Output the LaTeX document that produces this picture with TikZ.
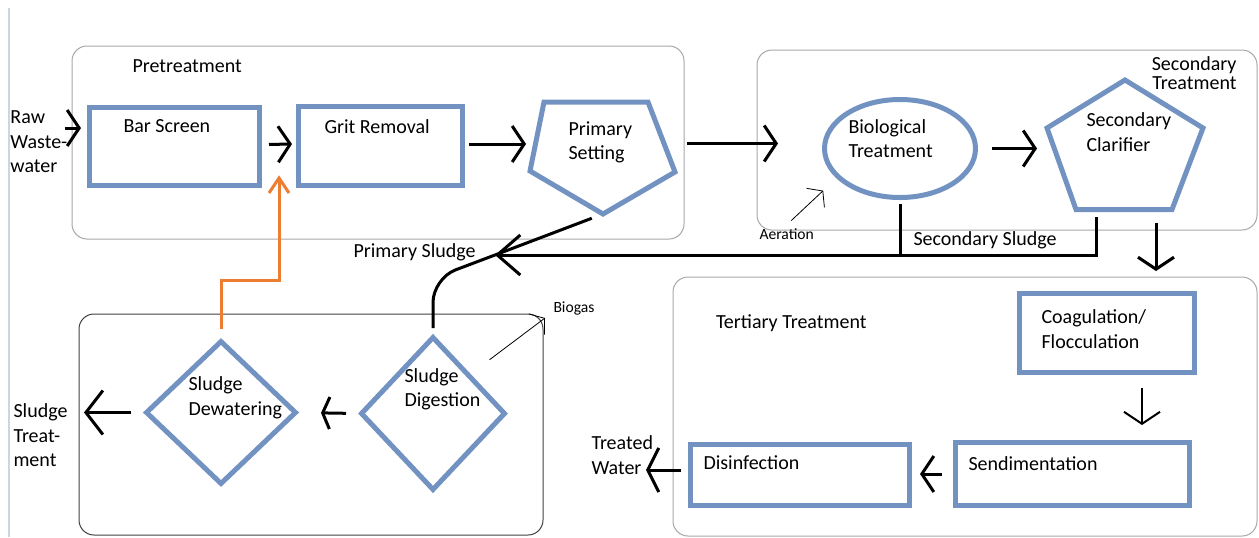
\documentclass[tikz,border=0pt]{standalone}
\usepackage{fontspec}
\setmainfont{Carlito}
\usepackage{tikz}
\usetikzlibrary{arrows.meta, shapes.geometric, calc}

\definecolor{boxblue}{RGB}{114,147,194}
\definecolor{grpgray}{RGB}{168,168,168}
\definecolor{retorange}{RGB}{237,125,49}
\definecolor{edgeline}{RGB}{205,212,228}

\begin{document}
\begin{tikzpicture}[x=.5pt, y=-.5pt, line width=.5pt,
    txt/.style={inner sep=0pt, anchor=west, align=left, font=\fontsize{10}{12.25}\selectfont},
    txtone/.style={txt, text height=1.5ex, text depth=.25ex},
    small/.style={txtone, font=\fontsize{7.8}{9}\selectfont},
    unit/.style={draw=boxblue, line width=2.5pt, inner sep=0pt},
    group/.style={draw=grpgray, line width=.5pt, rounded corners=7.5pt},
    flow/.style={draw=black, line width=1.5pt, -{Straight Barb[length=6pt, width=18pt]}},
    sludge/.style={draw=black, line width=1.5pt},
    gas/.style={draw=black, line width=.4pt, -{Straight Barb[length=5pt, width=13pt]}},
    recycle/.style={draw=retorange, line width=1.5pt, -{Straight Barb[length=7.5pt, width=10pt]}}]
    \useasboundingbox (0,0) rectangle (1259,537);
    \draw[edgeline, line width=.6pt] (9,8) -- (9,537);

    % draw group boxes
    \draw[group] (72,46) rectangle (684,239);
    \draw[group] (757,50) rectangle (1257,230);
    \draw[group] (673,277) rectangle (1257,536);
    \draw[draw=black!75, line width=.5pt, rounded corners=7.5pt] (79,314) rectangle (543,535);

    % pretreatment
    \node[txtone] (pre) at (132,67) {Pretreatment};
    \node[txt] (raw) at (10,142) {Raw\\Waste-\\water};
    \node[unit, minimum width=85pt, minimum height=39pt] (bar) at (174.5,146.5) {};
    \node[txtone] (bartxt) at (123,127) {Bar Screen};
    \node[unit, minimum width=82pt, minimum height=39.5pt] (grit) at (380.5,146) {};
    \node[txtone] (grittxt) at (324,128) {Grit Removal};
    \draw[unit] (544,102) coordinate (ps-nw) -- (648,102) coordinate (ps-ne) -- (675,172) coordinate (ps-e)
        -- (603,214) coordinate (ps-s) -- (530,171) coordinate (ps-w) -- cycle;
    \node[txt] (prim) at (568,142.5) {Primary\\Setting};

    % secondary treatment
    \node[txt, anchor=east, align=right, font=\fontsize{10}{9.5}\selectfont] (sec) at (1237,73.5) {Secondary\\Treatment};
    \node[unit, ellipse, minimum width=75.5pt, minimum height=49pt] (bio) at (900,148.5) {};
    \node[txt] (biotxt) at (848,138.5) {Biological\\Treatment};
    \draw[unit] (1125,80) coordinate (cl-n) -- (1203,128) coordinate (cl-e) -- (1172,209.5) coordinate (cl-se)
        -- (1076,209.5) coordinate (cl-sw) -- (1047,128) coordinate (cl-w) -- cycle;
    \node[txt] (clartxt) at (1086,132) {Secondary\\Clarifier};
    \node[small] (aer) at (759,234) {Aeration};
    \node[txtone] (ssl) at (913,240) {Secondary Sludge};

    % sludge treatment
    \node[txtone] (psltxt) at (353,252) {Primary Sludge};
    \node[small] (biog) at (553,307) {Biogas};
    \node[unit, diamond, minimum width=75.5pt, minimum height=72pt] (dew) at (221,412.5) {};
    \node[txt] (dewtxt) at (188,398) {Sludge\\Dewatering};
    \node[unit, diamond, minimum width=72.5pt, minimum height=77pt] (dig) at (433,413.5) {};
    \node[txt] (digtxt) at (404,389.5) {Sludge\\Digestion};
    \node[txt] (st) at (13,435.5) {Sludge\\Treat-\\ment};

    % tertiary treatment
    \node[txtone] (ter) at (715.5,323) {Tertiary Treatment};
    \node[unit, minimum width=87.5pt, minimum height=39.5pt] (coag) at (1107,333) {};
    \node[txt] (coagtxt) at (1041,329) {Coagulation/\\Flocculation};
    \node[unit, minimum width=117pt, minimum height=31.5pt] (send) at (1072.5,474) {};
    \node[txtone] (sendtxt) at (968,465) {Sendimentation};
    \node[unit, minimum width=109.5pt, minimum height=30.5pt] (dis) at (800,475) {};
    \node[txtone] (distxt) at (703,464) {Disinfection};
    \node[txt] (tw) at (591,455) {Treated\\Water};

    % main flow arrows
    \draw[flow, shorten <=-1.5pt, shorten >=3pt] ([yshift=7pt]raw.east) -- ([yshift=7pt]raw.east -| bar.west);
    \draw[flow, shorten <=3.5pt, shorten >=2pt] ([yshift=1pt]bar.east) -- ([yshift=1pt]grit.west);
    \draw[flow, shorten <=2pt, shorten >=2pt] ([yshift=1pt]grit.east) -- ([yshift=1pt]grit.east -| ps-w);
    \draw[flow, shorten <=6pt, shorten >=22pt] ([yshift=2.5pt]bio.west -| ps-e) -- ([yshift=2.5pt]bio.west);
    \draw[flow, shorten <=7pt, shorten >=5pt] (bio.east) -- (bio.east -| cl-w);
    \draw[flow, shorten <=6.5pt, shorten >=10pt] ([xshift=24.5pt]coag.north |- cl-se) -- ([xshift=24.5pt]coag.north);
    \draw[flow, line width=1pt, shorten <=6.5pt, shorten >=7.5pt] ([xshift=17.5pt]coag.south) -- ([xshift=17.5pt]coag.south |- send.north);
    \draw[flow, shorten <=5.5pt, shorten >=4pt] (send.west) -- (send.west -| dis.east);
    \draw[flow, shorten <=3.5pt, shorten >=-3.7pt, -{Straight Barb[length=5.5pt, width=22pt]}] ([yshift=2.5pt]dis.west) -- ([yshift=2.5pt]dis.west -| tw.east);
    \draw[flow, shorten <=6pt, shorten >=11pt, -{Straight Barb[length=3.5pt, width=16pt]}] (dig.west) -- (dew.east);
    \draw[flow, shorten <=6pt, shorten >=8pt, -{Straight Barb[length=8.5pt, width=22pt]}] (dew.west) -- (dew.west -| st.east);

    % sludge lines
    \coordinate (psl) at (495,255);
    \coordinate (bend) at ($(ps-s)!1.57!(psl)$);
    \draw[sludge, shorten <=6pt] (ps-s) -- (psl);
    \draw[flow, shorten <=3.75pt, -{Straight Barb[length=11.5pt, width=20pt]}] ([xshift=10pt]cl-sw) |- (psl);
    \draw[sludge, shorten <=2pt] (bio.south) -- (bio.south |- psl);
    \draw[sludge, rounded corners=12pt, shorten <=3pt] (dig.north) -- (dig.north |- bend) -- (psl);

    % recycle line
    \draw[recycle, shorten <=4.5pt, shorten >=14.5pt] (dew.north) -- ++(0,-57.5) -| ($(bar.east)!.5!(grit.west)$);

    % gas arrows
    \draw[gas] ([shift={(4.5,-4.5)}]aer.north) -- ++(32,-30);
    \draw[gas] ([shift={(19,-14)}]dig.north east) -- ([shift={(-8,11)}]biog.west);
\end{tikzpicture}
\end{document}
